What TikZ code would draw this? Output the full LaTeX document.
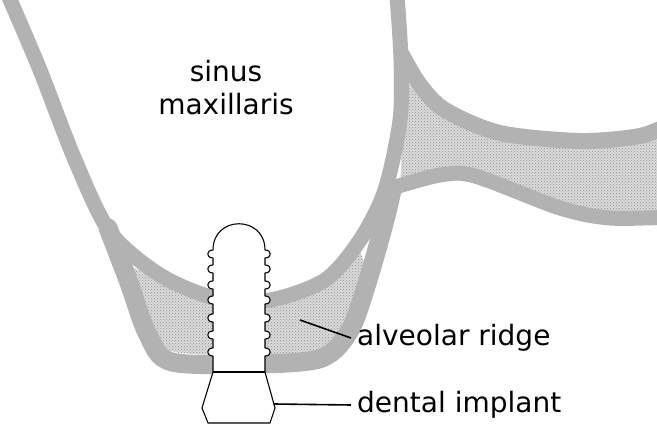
\documentclass[tikz,border=0pt]{standalone}
\usepackage{fontspec}
\setmainfont{DejaVu Sans}
\usetikzlibrary{patterns}
\begin{document}
\begin{tikzpicture}[x=1pt,y=-1pt,
  bone/.style={draw=boneg,line width=#1,line join=round,line cap=round},
  stip/.style={preaction={fill=gray!28},pattern=crosshatch dots,pattern color=gray!90},
  lbl/.style={font=\fontsize{28}{33}\selectfont,inner sep=0pt},
  lead/.style={draw=black,line width=1.6pt}]
\definecolor{boneg}{RGB}{178,178,178}
\useasboundingbox (0,0) rectangle (657,438);
% stipple regions
\path[stip] plot[smooth] coordinates{(130,266)(180,288)(215,300)(270,302)(320,284)(356,240)}
  -- plot[smooth] coordinates{(364,262)(350,325)(320,352)(260,356)(175,352)(158,335)(142,292)} -- cycle;
\path[stip] plot[smooth] coordinates{(405,80)(440,115)(500,138)(580,146)(657,132)}
  -- (657,222) -- plot[smooth] coordinates{(657,222)(610,222)(560,212)(475,180)(440,180)(400,190)} -- cycle;
% bone walls
\draw[bone=15pt] plot[smooth] coordinates{(8,-5)(40,70)(75,160)(110,232)(160,275)(215,298)(270,300)(325,280)(360,240)(385,190)(400,120)(401,60)(397,-5)};
\draw[bone=19pt] plot[smooth] coordinates{(108,228)(128,280)(148,335)(172,362)(260,364)(322,358)(350,330)(368,280)(385,220)(392,190)};
\draw[bone=16pt] plot[smooth] coordinates{(402,55)(420,85)(445,110)(500,133)(580,141)(640,136)(670,124)};
\draw[bone=15pt] plot[smooth] coordinates{(392,188)(440,175)(475,176)(560,208)(610,218)(670,217)};
% implant
\draw[fill=white,line width=1.1pt,line join=round]
  (213,372) -- (213,358)
  \foreach \y in {352,335,318,300,285,269,254}{ -- (213,\y+4) .. controls (206,\y+4) and (206,\y-4) .. (213,\y-4) }
  -- (213,250) .. controls (213,215) and (265,215) .. (265,250)
  \foreach \y in {254,269,285,300,318,335,352}{ -- (265,\y-4) .. controls (272,\y-4) and (272,\y+4) .. (265,\y+4) }
  -- (265,372) -- (275,408) -- (270,423) -- (208,423) -- (202,408) -- cycle;
\draw[line width=1.1pt] (213,372) -- (265,372);
\coordinate (ridgept) at (300,320);
\coordinate (implpt) at (274,404);
% labels
\node[lbl,align=center] (sinus) at (226,88) {sinus\\maxillaris};
\node[lbl,anchor=west] (ridge) at (357,338) {alveolar ridge};
\node[lbl,anchor=west] (impl) at (357,405) {dental implant};
\draw[lead] (ridgept) -- ([xshift=-6pt]ridge.west);
\draw[lead] (implpt) -- ([xshift=-6pt]impl.west);
\end{tikzpicture}
\end{document}
